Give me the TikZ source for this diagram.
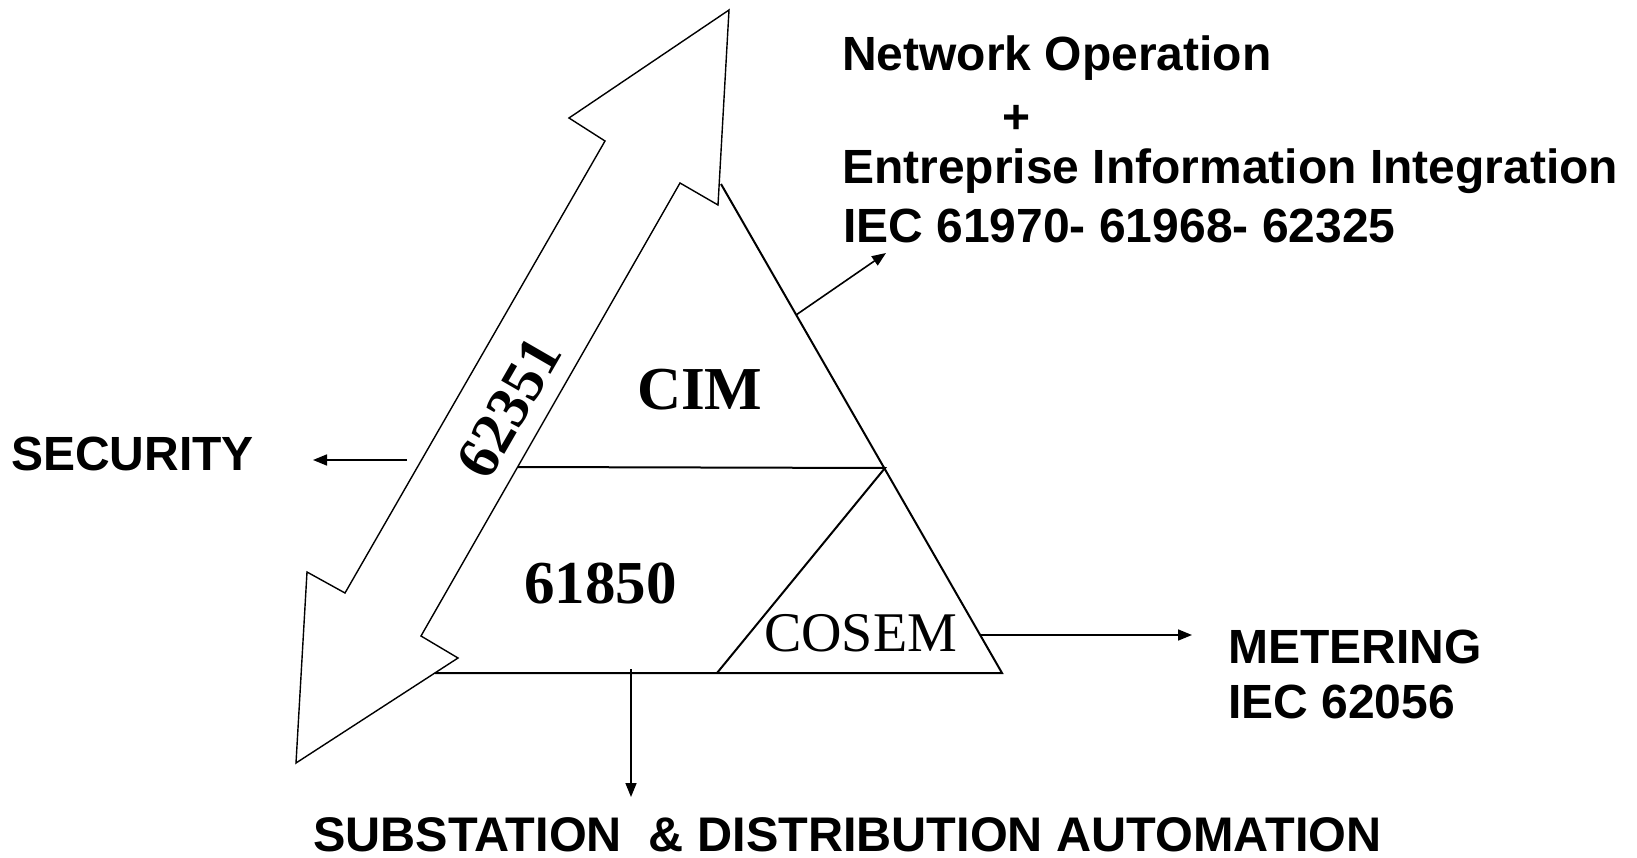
\documentclass[tikz,border=0pt]{standalone}
\usepackage{fontspec}
\setmainfont{Liberation Serif}
\setsansfont{Liberation Sans}
\usepackage{tikz}
\usetikzlibrary{arrows.meta,positioning}
\tikzstyle{sidetext} = [font=\sffamily\bfseries\fontsize{48}{57}\selectfont, inner sep=0pt, anchor=base west]
\tikzstyle{layertext} = [font=\rmfamily\bfseries\fontsize{61}{70}\selectfont, inner sep=0pt, anchor=base west]
\tikzstyle{arrow} = [line width=1.6pt, -{Triangle[length=14pt,width=11pt]}]
\tikzstyle{tri} = [line width=2pt, line join=miter]
\tikzstyle{bigarrow} = [line width=1.4pt, fill=white, line join=miter]

\begin{document}
\begin{tikzpicture}[x=1pt, y=-1pt]
\useasboundingbox (0,0) rectangle (1637,858);

% double headed arrow 62351
\draw[bigarrow] (729,10) -- (718,205) -- (680,183) -- (421,636) -- (458,658)
  -- (296,763) -- (307,572) -- (345,593) -- (605,141) -- (569,118) -- cycle;
\node[font=\rmfamily\bfseries\fontsize{60}{70}\selectfont, rotate=60, inner sep=0pt] (sec62351) at (509,408) {62351};

% pyramid
\coordinate (apex) at (721,184);
\coordinate (botleft) at (435,673);
\coordinate (botright) at (1002,673);
\coordinate (midleft) at (518,467);
\coordinate (midright) at (885,468);
\coordinate (cosemleft) at (717,673);
\draw[tri] (apex) -- (botright) -- (botleft);
\draw[tri] (midleft) -- (midright) -- (cosemleft);

\node[layertext] (cim) at (637,409) {CIM};
\node[layertext] (iec61850) at (524,603) {61850};
\node[layertext, font=\rmfamily\fontsize{56}{64}\selectfont] (cosem) at (764,651) {COSEM};

% outside labels
\node[sidetext] (netop) at (842,71) {Network Operation};
\node[sidetext, anchor=base] (plus) at (1017,134) {+};
\node[sidetext] (eii) at (842,184) {Entreprise Information Integration};
\node[sidetext] (ieccim) at (843,243) {IEC 61970- 61968- 62325};
\node[sidetext] (security) at (11,470) {SECURITY};
\node[sidetext] (metering) at (1228,663) {METERING};
\node[sidetext] (iecmeter) at (1228,718) {IEC 62056};
\node[sidetext, font=\sffamily\bfseries\fontsize{48.6}{57}\selectfont] (subst) at (313,851) {SUBSTATION\ \ \& DISTRIBUTION AUTOMATION};

% connectors
\coordinate (netfrom) at (796,315);
\coordinate (netto) at (886,253);
\coordinate (secfrom) at (407,460);
\coordinate (secto) at (313,460);
\coordinate (meterfrom) at (980,635);
\coordinate (meterto) at (1192,635);
\coordinate (substfrom) at (631,669);
\coordinate (substto) at (631,797);
\draw[arrow] (netfrom) -- (netto);
\draw[arrow] (secfrom) -- (secto);
\draw[arrow] (meterfrom) -- (meterto);
\draw[arrow] (substfrom) -- (substto);
\end{tikzpicture}
\end{document}
